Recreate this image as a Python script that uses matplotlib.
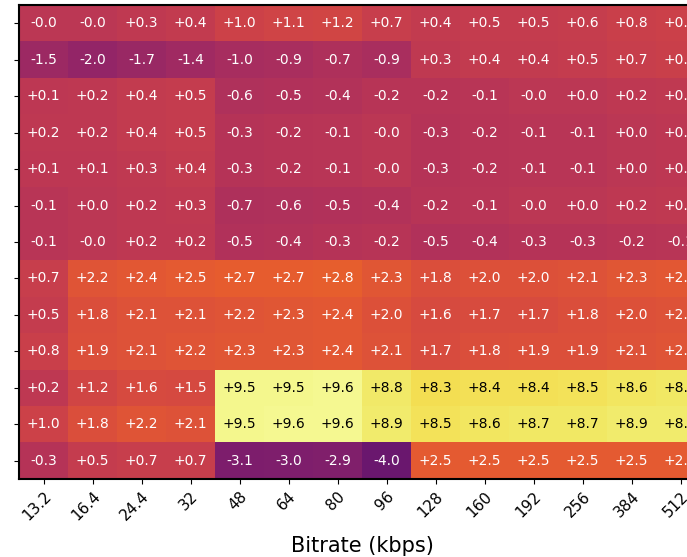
import numpy as np
import matplotlib
matplotlib.use("Agg")
import matplotlib.pyplot as plt

bitrates = ["13.2", "16.4", "24.4", "32", "48", "64", "80", "96",
            "128", "160", "192", "256", "384", "512"]

r0 = [-0.0, -0.0, 0.3, 0.4, 1.0, 1.1, 1.2, 0.7, 0.4, 0.5, 0.5, 0.6, 0.8, 0.9]
r1 = [-1.5, -2.0, -1.7, -1.4, -1.0, -0.9, -0.7, -0.9, 0.3, 0.4, 0.4, 0.5, 0.7, 0.8]
r2 = [0.1, 0.2, 0.4, 0.5, -0.6, -0.5, -0.4, -0.2, -0.2, -0.1, -0.0, 0.0, 0.2, 0.3]
r3 = [0.2, 0.2, 0.4, 0.5, -0.3, -0.2, -0.1, -0.0, -0.3, -0.2, -0.1, -0.1, 0.0, 0.1]
r4 = [0.1, 0.1, 0.3, 0.4, -0.3, -0.2, -0.1, -0.0, -0.3, -0.2, -0.1, -0.1, 0.0, 0.1]
r5 = [-0.1, 0.0, 0.2, 0.3, -0.7, -0.6, -0.5, -0.4, -0.2, -0.1, -0.0, 0.0, 0.2, 0.3]
r6 = [-0.1, -0.0, 0.2, 0.2, -0.5, -0.4, -0.3, -0.2, -0.5, -0.4, -0.3, -0.3, -0.2, -0.1]
r7 = [0.7, 2.2, 2.4, 2.5, 2.7, 2.7, 2.8, 2.3, 1.8, 2.0, 2.0, 2.1, 2.3, 2.4]
r8 = [0.5, 1.8, 2.1, 2.1, 2.2, 2.3, 2.4, 2.0, 1.6, 1.7, 1.7, 1.8, 2.0, 2.1]
r9 = [0.8, 1.9, 2.1, 2.2, 2.3, 2.3, 2.4, 2.1, 1.7, 1.8, 1.9, 1.9, 2.1, 2.2]
r10 = [0.2, 1.2, 1.6, 1.5, 9.5, 9.5, 9.6, 8.8, 8.3, 8.4, 8.4, 8.5, 8.6, 8.7]
r11 = [1.0, 1.8, 2.2, 2.1, 9.5, 9.6, 9.6, 8.9, 8.5, 8.6, 8.7, 8.7, 8.9, 8.9]
r12 = [-0.3, 0.5, 0.7, 0.7, -3.1, -3.0, -2.9, -4.0, 2.5, 2.5, 2.5, 2.5, 2.5, 2.5]

data = np.array([r0, r1, r2, r3, r4, r5, r6, r7, r8, r9, r10, r11, r12])

cmap = plt.get_cmap("inferno")
vmin, vmax = -10, 10

fig = plt.figure(figsize=(6.87, 5.57), dpi=100)
# the axes runs past the right edge, like in the cropped original
ax = fig.add_axes([19 / 687, 78 / 557, 686 / 687, 474 / 557])
ax.imshow(data, cmap=cmap, vmin=vmin, vmax=vmax, aspect="auto")

for i in range(data.shape[0]):
    for j in range(data.shape[1]):
        v = data[i, j]
        frac = (v - vmin) / (vmax - vmin)
        col = "black" if frac > 0.8 else "white"
        ax.text(j, i, f"{v:+.1f}", ha="center", va="center",
                color=col, fontsize=10)

ax.set_xticks(np.arange(len(bitrates)))
ax.set_xticklabels(bitrates, rotation=45, ha="right", rotation_mode="anchor",
                   fontsize=11)
ax.set_yticks(np.arange(data.shape[0]))
ax.set_yticklabels([])
ax.set_xlabel("Bitrate (kbps)", fontsize=15, labelpad=9)

for s in ax.spines.values():
    s.set_linewidth(1.5)

fig.savefig("out.png", dpi=100)
